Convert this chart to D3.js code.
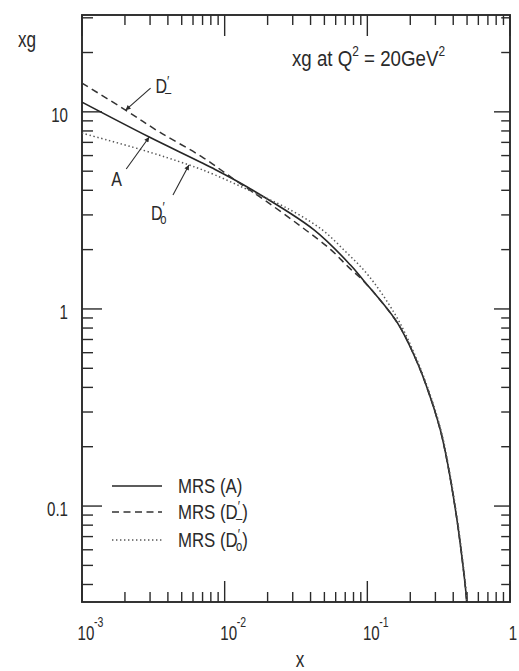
<!DOCTYPE html>
<html><head><meta charset="utf-8">
<script src="https://cdn.jsdelivr.net/npm/d3@7"></script>
<style>
html,body{margin:0;padding:0;background:#fff;}
svg text{font-family:"Liberation Sans",Arial,"DejaVu Sans",sans-serif;fill:#2a2a2a;}
</style></head><body>
<svg id="chart" width="519" height="671"></svg>
<script>
// Gluon momentum distribution xg(x) at Q^2 = 20 GeV^2 for three MRS fits
const xA       = [0.001, 0.00296, 0.00813, 0.0147, 0.0423, 0.0762, 0.0938, 0.161, 0.220, 0.270, 0.325, 0.365, 0.425, 0.472, 0.489, 0.497, 0.503];
const xgA      = [11.2, 7.45, 5.2, 4.12, 2.52, 1.67, 1.40, 0.86, 0.551, 0.375, 0.243, 0.165, 0.085, 0.0473, 0.0375, 0.0326, 0.028];

const xDminus  = [0.001, 0.00202, 0.00348, 0.00693, 0.01178, 0.019, 0.0343, 0.0554, 0.0738, 0.0968, 0.164, 0.220, 0.270, 0.325, 0.365, 0.425, 0.472, 0.489, 0.497, 0.503];
const xgDminus = [14.0, 10.2, 7.91, 5.91, 4.52, 3.57, 2.62, 2.0, 1.63, 1.355, 0.84, 0.55, 0.374, 0.242, 0.164, 0.085, 0.0473, 0.0375, 0.0326, 0.028];

const xD0      = [0.001, 0.00264, 0.00562, 0.00853, 0.0162, 0.0262, 0.0473, 0.0706, 0.097, 0.127, 0.169, 0.222, 0.272, 0.327, 0.367, 0.427, 0.474, 0.491, 0.499, 0.505];
const xgD0     = [7.8, 6.41, 5.38, 4.79, 3.88, 3.30, 2.55, 1.95, 1.54, 1.19, 0.85, 0.555, 0.378, 0.245, 0.166, 0.086, 0.048, 0.038, 0.0326, 0.028];

const xMajorTicks = [1e-3, 1e-2, 1e-1, 1];
const xTickExponents = ["-3", "-2", "-1", ""];
const yMajorTicks = [0.1, 1, 10];
const yTickLabels = ["0.1", "1", "10"];
const legendNames = ["A", "D", "D"];
const legendSubs  = ["", "\u2013", "o"];

const W = 519, H = 671;
const plot = {left: 82, right: 510, top: 15, bottom: 602};
const ink = "#2a2a2a";

const svg = d3.select("#chart");
svg.append("rect").attr("width", W).attr("height", H).attr("fill", "#fff");

const x = d3.scaleLog().domain([1e-3, 1]).range([plot.left, plot.right]);
const y = d3.scaleLog().domain([0.0326, 31]).range([plot.bottom, plot.top]);

// horizontally condensed text, drawn in a scaled group
function label(px, py, size, sx, anchor) {
  return svg.append("g").attr("transform", `translate(${px},${py}) scale(${sx},1)`)
    .append("text").attr("font-size", size).attr("text-anchor", anchor || "start");
}

// minor tick values: 2..9 within every decade inside the domain
function minorTicks(scale) {
  const [a, b] = scale.domain();
  const out = [];
  for (let e = Math.floor(Math.log10(a)); e <= Math.ceil(Math.log10(b)); e++) {
    for (let m = 2; m <= 9; m++) {
      const v = m * Math.pow(10, e);
      if (v > a * 1.001 && v < b * 0.999) out.push(v);
    }
  }
  return out;
}
const xMinor = minorTicks(x), yMinor = minorTicks(y);
const xTicks = xMinor.map(v => ({v, len: 10})).concat(xMajorTicks.map(v => ({v, len: 21})));
const yTicks = yMinor.map(v => ({v, len: 11})).concat(yMajorTicks.map(v => ({v, len: 20})));

const tickG = svg.append("g").attr("stroke", ink).attr("stroke-width", 1.4);
// bottom and top: ticks point into the frame
tickG.selectAll(".tb").data(xTicks).join("line")
  .attr("x1", d => x(d.v)).attr("x2", d => x(d.v))
  .attr("y1", plot.bottom).attr("y2", d => plot.bottom - d.len);
tickG.selectAll(".tt").data(xTicks).join("line")
  .attr("x1", d => x(d.v)).attr("x2", d => x(d.v))
  .attr("y1", plot.top).attr("y2", d => plot.top + d.len);
// left and right
tickG.selectAll(".tl").data(yTicks).join("line")
  .attr("y1", d => y(d.v)).attr("y2", d => y(d.v))
  .attr("x1", plot.left).attr("x2", d => plot.left + d.len);
tickG.selectAll(".tr").data(yTicks).join("line")
  .attr("y1", d => y(d.v)).attr("y2", d => y(d.v))
  .attr("x1", plot.right).attr("x2", d => plot.right - d.len * 0.8);

// frame
svg.append("rect")
  .attr("x", plot.left).attr("y", plot.top)
  .attr("width", plot.right - plot.left).attr("height", plot.bottom - plot.top)
  .attr("fill", "none").attr("stroke", ink).attr("stroke-width", 1.9);

// x tick labels (powers of ten)
xMajorTicks.forEach((v, i) => {
  if (xTickExponents[i]) {
    label(x(v) + 4, 640, 21, 0.72, "middle").text("10");
    label(x(v) + 12, 627, 14, 0.75, "start").text(xTickExponents[i]);
  } else {
    label(x(v) + 3, 640, 21, 0.72, "middle").text("1");
  }
});

// y tick labels
yMajorTicks.forEach((v, i) => {
  label(68, y(v) + 10, 21, 0.72, "end").text(yTickLabels[i]);
});

// axis titles
label(18, 47, 22, 0.78).text("xg");
label(300, 667, 22, 0.78, "middle").text("x");

// panel caption
const cap = label(292, 66, 22, 0.85);
cap.append("tspan").text("xg at Q");
cap.append("tspan").attr("font-size", 14).attr("dy", -10).text("2");
cap.append("tspan").attr("dy", 10).text(" = 20GeV");
cap.append("tspan").attr("font-size", 14).attr("dy", -10).text("2");

// curves
svg.append("clipPath").attr("id", "plotclip").append("rect")
  .attr("x", plot.left).attr("y", plot.top)
  .attr("width", plot.right - plot.left).attr("height", plot.bottom - plot.top);

const line = d3.line().x(d => x(d[0])).y(d => y(d[1])).curve(d3.curveCatmullRom.alpha(0.5));
const series = [
  {xs: xA, ys: xgA, dash: null, color: "#262626", width: 1.6},
  {xs: xDminus, ys: xgDminus, dash: "7,4.5", color: "#333", width: 1.5},
  {xs: xD0, ys: xgD0, dash: "1.4,2.6", color: "#555", width: 1.5}
];
const curves = svg.append("g").attr("clip-path", "url(#plotclip)");
series.forEach(s => {
  curves.append("path")
    .datum(s.xs.map((v, i) => [v, s.ys[i]]))
    .attr("d", line)
    .attr("fill", "none").attr("stroke", s.color).attr("stroke-width", s.width)
    .attr("stroke-dasharray", s.dash);
});

// arrow labels pointing at the curves
svg.append("defs").append("marker").attr("id", "arrowhead")
  .attr("viewBox", "0 0 10 10").attr("refX", 10).attr("refY", 5)
  .attr("markerWidth", 7).attr("markerHeight", 5).attr("orient", "auto")
  .attr("markerUnits", "userSpaceOnUse")
  .append("path").attr("d", "M0,0L10,5L0,10Z").attr("fill", ink);

// "D" with a prime above and a subscript below, stacked
function primeLabel(px, py, size, sub) {
  const t = label(px, py, size, 0.8);
  t.append("tspan").text("D");
  t.append("tspan").attr("font-size", size * 0.75).attr("dy", -size * 0.38).text("\u2032");
  t.append("tspan").attr("font-size", size * 0.7).attr("dx", -size * 0.28).attr("dy", size * 0.56).text(sub);
}

const notes = [
  {tip: [xDminus[1], xgDminus[1]], from: [25, -22]},
  {tip: [xA[1], xgA[1]], from: [-23, 32]},
  {tip: [xD0[2], xgD0[2]], from: [-16, 30]}
];
notes.forEach(n => {
  const tx = x(n.tip[0]), ty = y(n.tip[1]);
  svg.append("line")
    .attr("x1", tx + n.from[0]).attr("y1", ty + n.from[1])
    .attr("x2", tx).attr("y2", ty)
    .attr("stroke", ink).attr("stroke-width", 1.1)
    .attr("marker-end", "url(#arrowhead)");
});
{
  const t0 = [x(xDminus[1]), y(xgDminus[1])];
  primeLabel(t0[0] + 30, t0[1] - 17, 20, "\u2013");
  const t1 = [x(xA[1]), y(xgA[1])];
  label(t1[0] - 38, t1[1] + 49, 20, 0.8).text("A");
  const t2 = [x(xD0[2]), y(xgD0[2])];
  primeLabel(t2[0] - 38, t2[1] + 55, 20, "o");
}

// legend
const legendY = [486, 512, 540];
series.forEach((s, i) => {
  svg.append("line").attr("x1", 112).attr("x2", 162)
    .attr("y1", legendY[i]).attr("y2", legendY[i])
    .attr("stroke", s.color).attr("stroke-width", s.width)
    .attr("stroke-dasharray", s.dash);
  const t = label(178, legendY[i] + 7, 21, 0.8);
  t.append("tspan").text("MRS (" + legendNames[i]);
  if (legendSubs[i]) {
    t.append("tspan").attr("font-size", 15).attr("dy", -8).text("\u2032");
    t.append("tspan").attr("font-size", 14).attr("dx", -5).attr("dy", 12).text(legendSubs[i]);
    t.append("tspan").attr("dy", -4).text(")");
  } else {
    t.append("tspan").text(")");
  }
});
</script>
</body></html>
